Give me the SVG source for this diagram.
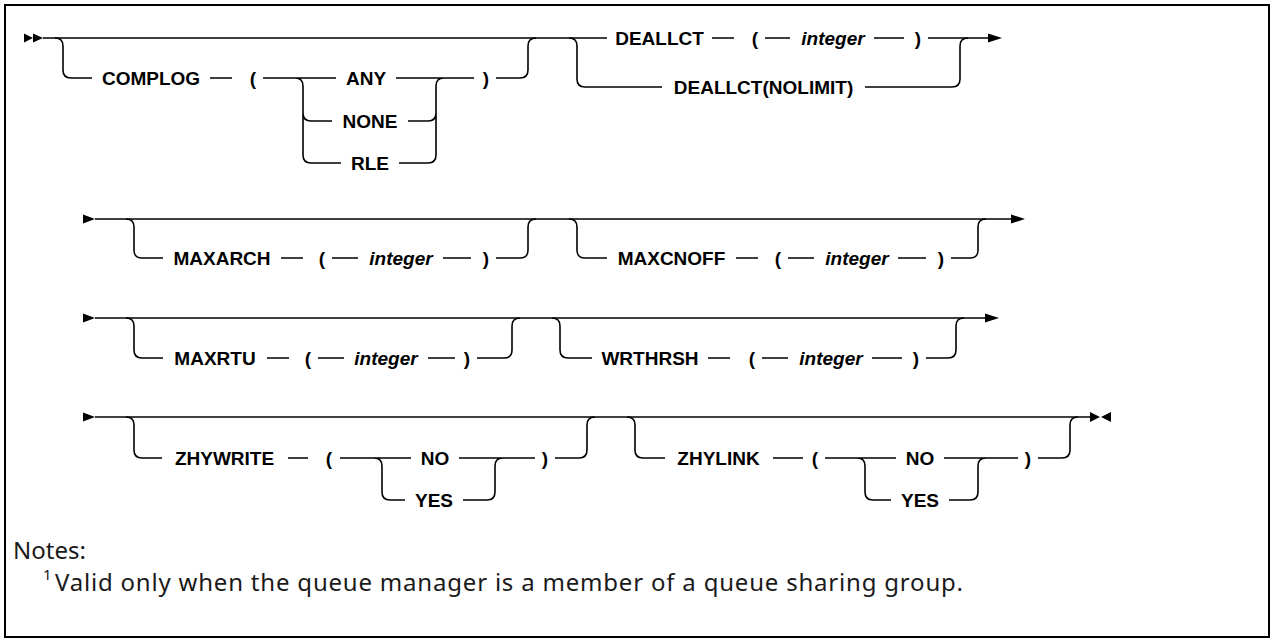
<svg xmlns="http://www.w3.org/2000/svg" width="1274" height="642" viewBox="0 0 1274 642">
<style>
.ln{fill:none;stroke:#000;stroke-width:1.6}
.kw{font-family:"Liberation Sans",Arial,sans-serif;font-size:19px;font-weight:bold;fill:#000;text-anchor:middle}
.var{font-family:"Liberation Sans",Arial,sans-serif;font-size:19px;font-weight:bold;font-style:italic;fill:#000;text-anchor:middle}
.note{font-family:"Noto Sans","Liberation Sans",Arial,sans-serif;font-size:24px;fill:#1a1a1a}
.ar{fill:#000}
</style>
<rect x="5" y="5" width="1264" height="632" fill="#fff" stroke="#000" stroke-width="2"/>
<g id="connectors">
<path class="ln" d="M43 38 H607 M712 38 H734 M765 38 H790 M874 38 H904 M928 38 H989"/>
<path class="ln" d="M55 38 Q63 38 63 46 V70 Q63 78 71 78 H92 M210 78 H232 M263 78 H336 M295 78 Q303 78 303 86 V155 Q303 163 311 163 H341 M303 113 Q303 121 311 121 H332 M396 78 H474 M408 121 H428 Q436 121 436 113 M399 163 H428 Q436 163 436 155 V86 Q436 78 444 78 M496 78 H520 Q528 78 528 70 V46 Q528 38 536 38"/>
<path class="ln" d="M569 38 Q577 38 577 46 V79 Q577 87 585 87 H662 M865 87 H952 Q960 87 960 79 V46 Q960 38 968 38"/>
<path class="ln" d="M95 219 H1011"/>
<path class="ln" d="M126 219 Q134 219 134 227 V250 Q134 258 142 258 H163 M281 258 H303 M332 258 H358 M443 258 H471 M496 258 H520 Q528 258 528 250 V227 Q528 219 536 219"/>
<path class="ln" d="M569 219 Q577 219 577 227 V250 Q577 258 585 258 H607 M736 258 H758 M788 258 H814 M898 258 H926 M951 258 H970 Q978 258 978 250 V227 Q978 219 986 219"/>
<path class="ln" d="M95 318 H985"/>
<path class="ln" d="M126 318 Q134 318 134 326 V350 Q134 358 142 358 H163 M267 358 H289 M318 358 H344 M428 358 H455 M477 358 H504 Q512 358 512 350 V326 Q512 318 520 318"/>
<path class="ln" d="M552 318 Q560 318 560 326 V350 Q560 358 568 358 H592 M708 358 H730 M762 358 H788 M872 358 H902 M926 358 H948 Q956 358 956 350 V326 Q956 318 964 318"/>
<path class="ln" d="M95 417 H1092"/>
<path class="ln" d="M126 417 Q134 417 134 425 V450 Q134 458 142 458 H162 M288 458 H308 M340 458 H411 M374 458 Q382 458 382 466 V492 Q382 500 390 500 H405 M459 458 H535 M463 500 H487 Q495 500 495 492 V466 Q495 458 503 458 M555 458 H579 Q587 458 587 450 V425 Q587 417 595 417"/>
<path class="ln" d="M627 417 Q635 417 635 425 V450 Q635 458 643 458 H665 M773 458 H803 M825 458 H896 M857 458 Q865 458 865 466 V492 Q865 500 873 500 H891 M944 458 H1018 M949 500 H970 Q978 500 978 492 V466 Q978 458 986 458 M1038 458 H1062 Q1070 458 1070 450 V425 Q1070 417 1078 417"/>
<polygon class="ar" points="24,33.5 33,38 24,42.5"/>
<polygon class="ar" points="33,33.5 43,38 33,42.5"/>
<polygon class="ar" points="988,33.5 1002,38 988,42.5"/>
<polygon class="ar" points="83,214.5 95,219 83,223.5"/>
<polygon class="ar" points="1011,214.5 1025,219 1011,223.5"/>
<polygon class="ar" points="83,313.5 95,318 83,322.5"/>
<polygon class="ar" points="985,313.5 999,318 985,322.5"/>
<polygon class="ar" points="83,412.5 95,417 83,421.5"/>
<polygon class="ar" points="1090,412 1100,417 1090,422"/>
<polygon class="ar" points="1111,412 1101,417 1111,422"/>
</g>
<g id="complog">
<text class="kw" x="151" y="85">COMPLOG</text>
<text class="kw" x="253" y="85">(</text>
<text class="kw" x="366" y="85">ANY</text>
<text class="kw" x="370" y="128">NONE</text>
<text class="kw" x="370" y="170">RLE</text>
<text class="kw" x="486" y="85">)</text>
</g>
<g id="deallct">
<text class="kw" x="659.5" y="45">DEALLCT</text>
<text class="kw" x="755" y="45">(</text>
<text class="var" x="833" y="45">integer</text>
<text class="kw" x="918" y="45">)</text>
<text class="kw" x="763.5" y="94">DEALLCT(NOLIMIT)</text>
</g>
<g id="maxarch">
<text class="kw" x="222" y="265">MAXARCH</text>
<text class="kw" x="322" y="265">(</text>
<text class="var" x="401" y="265">integer</text>
<text class="kw" x="486" y="265">)</text>
</g>
<g id="maxcnoff">
<text class="kw" x="671.5" y="265">MAXCNOFF</text>
<text class="kw" x="778" y="265">(</text>
<text class="var" x="857" y="265">integer</text>
<text class="kw" x="941" y="265">)</text>
</g>
<g id="maxrtu">
<text class="kw" x="215" y="365">MAXRTU</text>
<text class="kw" x="308" y="365">(</text>
<text class="var" x="386" y="365">integer</text>
<text class="kw" x="467" y="365">)</text>
</g>
<g id="wrthrsh">
<text class="kw" x="650" y="365">WRTHRSH</text>
<text class="kw" x="752" y="365">(</text>
<text class="var" x="831" y="365">integer</text>
<text class="kw" x="916" y="365">)</text>
</g>
<g id="zhywrite">
<text class="kw" x="224.5" y="465">ZHYWRITE</text>
<text class="kw" x="329" y="465">(</text>
<text class="kw" x="435" y="465">NO</text>
<text class="kw" x="434" y="507">YES</text>
<text class="kw" x="545" y="465">)</text>
</g>
<g id="zhylink">
<text class="kw" x="718.5" y="465">ZHYLINK</text>
<text class="kw" x="815" y="465">(</text>
<text class="kw" x="920" y="465">NO</text>
<text class="kw" x="920" y="507">YES</text>
<text class="kw" x="1028" y="465">)</text>
</g>
<g id="notes">
<text class="note" x="13" y="559">Notes:</text>
<text class="note" x="43" y="580" style="font-size:15px">1</text>
<text class="note" x="55" y="591" textLength="908" lengthAdjust="spacing">Valid only when the queue manager is a member of a queue sharing group.</text>
</g>
</svg>
